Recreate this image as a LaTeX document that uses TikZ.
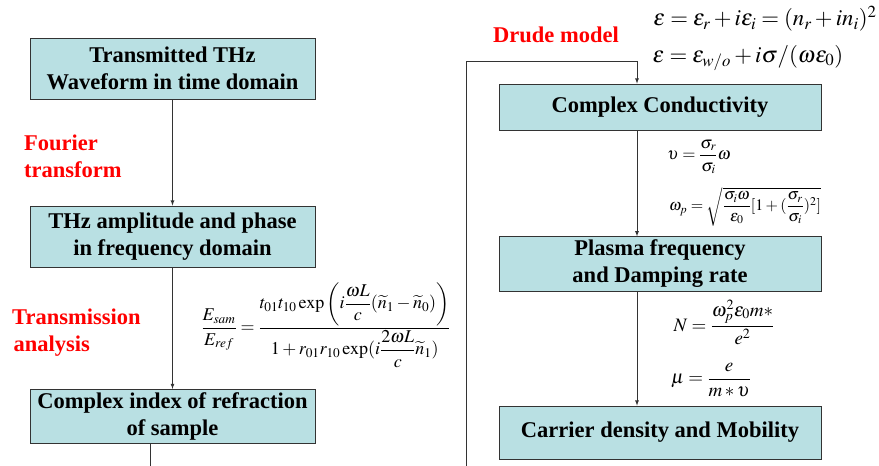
\documentclass[tikz,border=0pt]{standalone}
\usepackage{amsmath}
\usepackage{mathptmx}
\usepackage{fontspec}
\setmainfont{Liberation Serif}
\usepackage{tikz}
\usetikzlibrary{shapes.geometric, arrows}
\definecolor{boxteal}{RGB}{185,224,227}
\tikzstyle{stage} = [rectangle, minimum width=285pt, minimum height=61pt, inner xsep=2pt, text centered, align=center, draw=black!80, line width=0.8pt, fill=boxteal, font=\fontsize{22.5}{27}\selectfont\bfseries]
\usetikzlibrary{positioning, calc}

\begin{document}
\begin{tikzpicture}[x=1pt, y=-1pt, >=latex]
        \tikzstyle{note} = [text=red, align=left, anchor=west, inner sep=0pt, font=\fontsize{22.5}{27}\selectfont\bfseries]
        \tikzstyle{flow} = [->, line width=0.8pt, black!80]
        \tikzstyle{wide} = [stage, minimum width=322pt]
        \useasboundingbox (0,0) rectangle (879,466);

        \node[stage] (waveform) at (172.5,68.5) {Transmitted THz\\Waveform in time domain};
        \node[stage] (spectrum) at (172.5,236.5) {THz amplitude and phase\\in frequency domain};
        \node[stage, minimum height=53pt] (index) at (172.5,416.5) {Complex index of refraction\\of sample};

        \node[wide, minimum height=46pt] (conductivity) at (660,107) {Complex Conductivity};
        \node[wide, minimum height=54pt] (plasma) at (660,264) {Plasma frequency\\and Damping rate};
        \node[wide, minimum height=53pt] (carrier) at (660,432.5) {Carrier density and Mobility};

        \node[note] (fourier) at (24,156) {Fourier\\transform};
        \node[note] (transmission) at (12,333) {Transmission\\\hspace*{1.5pt}analysis};
        \node[note] (drude) at (493,35) {Drude model};

        \node (epsilon) at (765,19) {\fontsize{22.8}{26}\selectfont$\varepsilon=\varepsilon_r+i\varepsilon_i=(n_r+in_i)^2$};
        \node (epsdrude) at (748,58) {\fontsize{22.8}{26}\selectfont$\varepsilon=\varepsilon_{w/o}+i\sigma/(\omega\varepsilon_0)$};
        \node (damping) at (699,157) {\fontsize{17}{20}\selectfont$\upsilon=\dfrac{\sigma_r}{\sigma_i}\omega$};
        \node (plasmafreq) at (745,207) {\fontsize{16}{19}\selectfont$\omega_p=\sqrt{\dfrac{\sigma_i\omega}{\varepsilon_0}[1+(\dfrac{\sigma_r}{\sigma_i})^2]}$};
        \node (density) at (724,322) {\fontsize{19}{22}\selectfont$N=\dfrac{\omega_p^2\varepsilon_0 m*}{e^2}$};
        \node (mobility) at (711,380) {\fontsize{19}{22}\selectfont$\mu=\dfrac{e}{m*\upsilon}$};
        \node (fresnel) at (326,325) {\fontsize{18}{21}\selectfont$\dfrac{E_{sam}}{E_{ref}}=\dfrac{t_{01}t_{10}\exp\left(i\dfrac{\omega L}{c}(\widetilde{n}_1-\widetilde{n}_0)\right)}{1+r_{01}r_{10}\exp(i\dfrac{2\omega L}{c}\widetilde{n}_1)}$};

        \coordinate (col) at (637,0);
        \coordinate (back) at (150,0);
        \coordinate (loop) at (466,61);
        \coordinate (under) at (466,500);

        \draw[flow] (waveform) -- (spectrum);
        \draw[flow] (spectrum) -- (index);
        \draw[flow] (conductivity.south -| col) -- (plasma.north -| col);
        \draw[flow] (plasma.south -| col) -- (carrier.north -| col);
        \draw[flow] (index.south -| back) |- (under) -- (loop) -| (conductivity.north -| col);

    \end{tikzpicture}
\end{document}
